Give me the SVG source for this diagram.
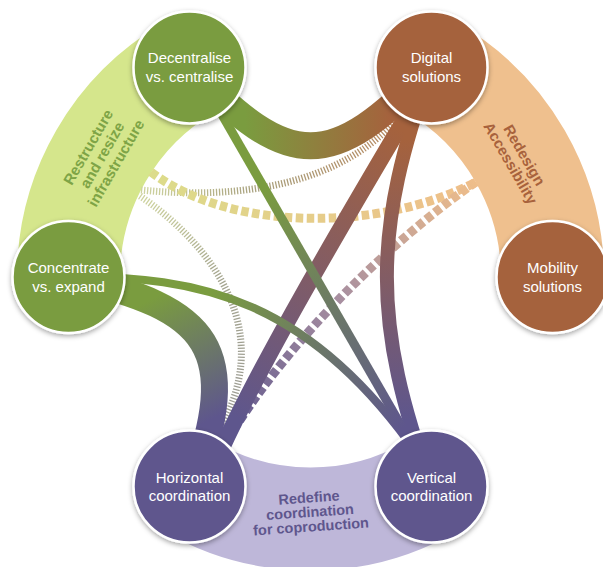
<svg xmlns="http://www.w3.org/2000/svg" width="603" height="567" viewBox="0 0 603 567">
<style>
.band{fill:none;stroke-width:103}
.lbl{font-family:"Liberation Sans",Arial,sans-serif;font-weight:bold;font-size:15px;text-anchor:middle}
.node circle{stroke:#fff;stroke-width:2.5;filter:url(#sh)}
.node text{font-family:"Liberation Sans",Arial,sans-serif;font-size:15px;fill:#fff;text-anchor:middle}
.g circle{fill:#7a9c3f}.b circle{fill:#a5623d}.p circle{fill:#5e568d}
#connectors path{fill:none}
.hatch{stroke-width:7;stroke-dasharray:1.3 1.7}
.dash{stroke-width:9;stroke-dasharray:7.5 3.5}
</style>
<defs>
<filter id="sh" x="-20%" y="-20%" width="140%" height="140%"><feDropShadow dx="0" dy="2" stdDeviation="2.5" flood-color="#000" flood-opacity="0.35"/></filter>
<linearGradient id="g1" gradientUnits="userSpaceOnUse" x1="245" y1="0" x2="390" y2="0"><stop offset="0" stop-color="#7a9c3f"/><stop offset="1" stop-color="#a5623d"/></linearGradient>
<linearGradient id="g2" gradientUnits="userSpaceOnUse" x1="150" y1="300" x2="210" y2="420"><stop offset="0" stop-color="#7a9c3f"/><stop offset="1" stop-color="#5e568d"/></linearGradient>
<linearGradient id="g3" gradientUnits="userSpaceOnUse" x1="0" y1="140" x2="0" y2="420"><stop offset="0" stop-color="#a5623d"/><stop offset="1" stop-color="#5e568d"/></linearGradient>
<linearGradient id="g4" gradientUnits="userSpaceOnUse" x1="400" y1="130" x2="240" y2="420"><stop offset="0" stop-color="#a5623d"/><stop offset="1" stop-color="#5e568d"/></linearGradient>
<linearGradient id="g5" gradientUnits="userSpaceOnUse" x1="215" y1="110" x2="400" y2="430"><stop offset="0.25" stop-color="#7a9c3f"/><stop offset="1" stop-color="#5e568d"/></linearGradient>
<linearGradient id="g6" gradientUnits="userSpaceOnUse" x1="130" y1="280" x2="400" y2="430"><stop offset="0.25" stop-color="#7a9c3f"/><stop offset="1" stop-color="#5e568d"/></linearGradient>
<linearGradient id="g7" gradientUnits="userSpaceOnUse" x1="145" y1="190" x2="395" y2="120"><stop offset="0" stop-color="#cdd29e"/><stop offset="0.4" stop-color="#a9a27f"/><stop offset="1" stop-color="#b88a62"/></linearGradient>
<linearGradient id="g8" gradientUnits="userSpaceOnUse" x1="145" y1="200" x2="215" y2="440"><stop offset="0" stop-color="#cdd29e"/><stop offset="0.4" stop-color="#a4a48f"/><stop offset="1" stop-color="#9c9c96"/></linearGradient>
<linearGradient id="g9" gradientUnits="userSpaceOnUse" x1="150" y1="0" x2="476" y2="0"><stop offset="0" stop-color="#dcdc8a"/><stop offset="1" stop-color="#efbe8a"/></linearGradient>
<linearGradient id="g10" gradientUnits="userSpaceOnUse" x1="476" y1="182" x2="226" y2="442"><stop offset="0" stop-color="#efbe8a"/><stop offset="0.5" stop-color="#a78ea0"/><stop offset="1" stop-color="#5e568d"/></linearGradient>
</defs>
<rect width="603" height="567" fill="#fff"/>
<g id="bands">
<path class="band" stroke="#d5e68c" d="M68.5,277 A242,242 0 0 1 189.5,67.4"/>
<path class="band" stroke="#efc08e" d="M431.5,67.4 A242,242 0 0 1 552.5,277"/>
<path class="band" stroke="#beb7d9" d="M431.5,486.6 A242,242 0 0 1 189.5,486.6"/>
<g transform="translate(102,155) rotate(-60)" class="lbl" fill="#7ea446">
<text x="0" y="-10.7">Restructure</text>
<text x="0" y="5.3">and resize</text>
<text x="0" y="21.3">infrastructure</text>
</g>
<g transform="translate(517.5,159) rotate(60)" class="lbl" fill="#a8623c">
<text x="0" y="-2.7">Redesign</text>
<text x="0" y="13.3">Accessibility</text>
</g>
<g transform="rotate(-4,310,512)" class="lbl" fill="#5e568d" style="font-size:14.5px">
<text x="310" y="502.5">Redefine</text>
<text x="310" y="517">coordination</text>
<text x="310" y="531.5">for coproduction</text>
</g>
</g>
<g id="connectors">
<path class="hatch" stroke="url(#g7)" d="M141,190 C240,200 340,185 398,118"/>
<path class="hatch" stroke="url(#g8)" d="M140,196 C205,240 285,330 213,440"/>
<path class="dash" stroke="url(#g9)" d="M151,172 C230,232 380,232 476,182"/>
<path class="dash" stroke="url(#g10)" d="M476,182 C420,220 300,320 226,442"/>
<path stroke="url(#g1)" stroke-width="27" d="M189.5,67.4 C290,172 331,172 431.5,67.4"/>
<path stroke="url(#g2)" stroke-width="27" d="M68.5,277 C212,308 242,350 192,486.6"/>
<path stroke="url(#g3)" stroke-width="14" d="M431.5,67.4 C372,230 372,324 431.5,486.6"/>
<path stroke="url(#g4)" stroke-width="16" d="M410,110 C360,195 270,345 222,448"/>
<path stroke="url(#g5)" stroke-width="9" d="M202,80 L418,455"/>
<path stroke="url(#g6)" stroke-width="8" d="M68.5,277 C200,275 310,300 418,455"/>
</g>
<g id="n-decentralise" class="node g"><circle cx="189.5" cy="67.4" r="56"/><text x="189.5" y="63.4">Decentralise</text><text x="189.5" y="82">vs. centralise</text></g>
<g id="n-digital" class="node b"><circle cx="431.5" cy="67.4" r="56"/><text x="431.5" y="63.4">Digital</text><text x="431.5" y="82">solutions</text></g>
<g id="n-mobility" class="node b"><circle cx="552.5" cy="277" r="56"/><text x="552.5" y="273">Mobility</text><text x="552.5" y="291.6">solutions</text></g>
<g id="n-vertical" class="node p"><circle cx="431.5" cy="486.6" r="56"/><text x="431.5" y="482.6">Vertical</text><text x="431.5" y="501.2">coordination</text></g>
<g id="n-horizontal" class="node p"><circle cx="189.5" cy="486.6" r="56"/><text x="189.5" y="482.6">Horizontal</text><text x="189.5" y="501.2">coordination</text></g>
<g id="n-concentrate" class="node g"><circle cx="68.5" cy="277" r="56"/><text x="68.5" y="273">Concentrate</text><text x="68.5" y="291.6">vs. expand</text></g>
</svg>
